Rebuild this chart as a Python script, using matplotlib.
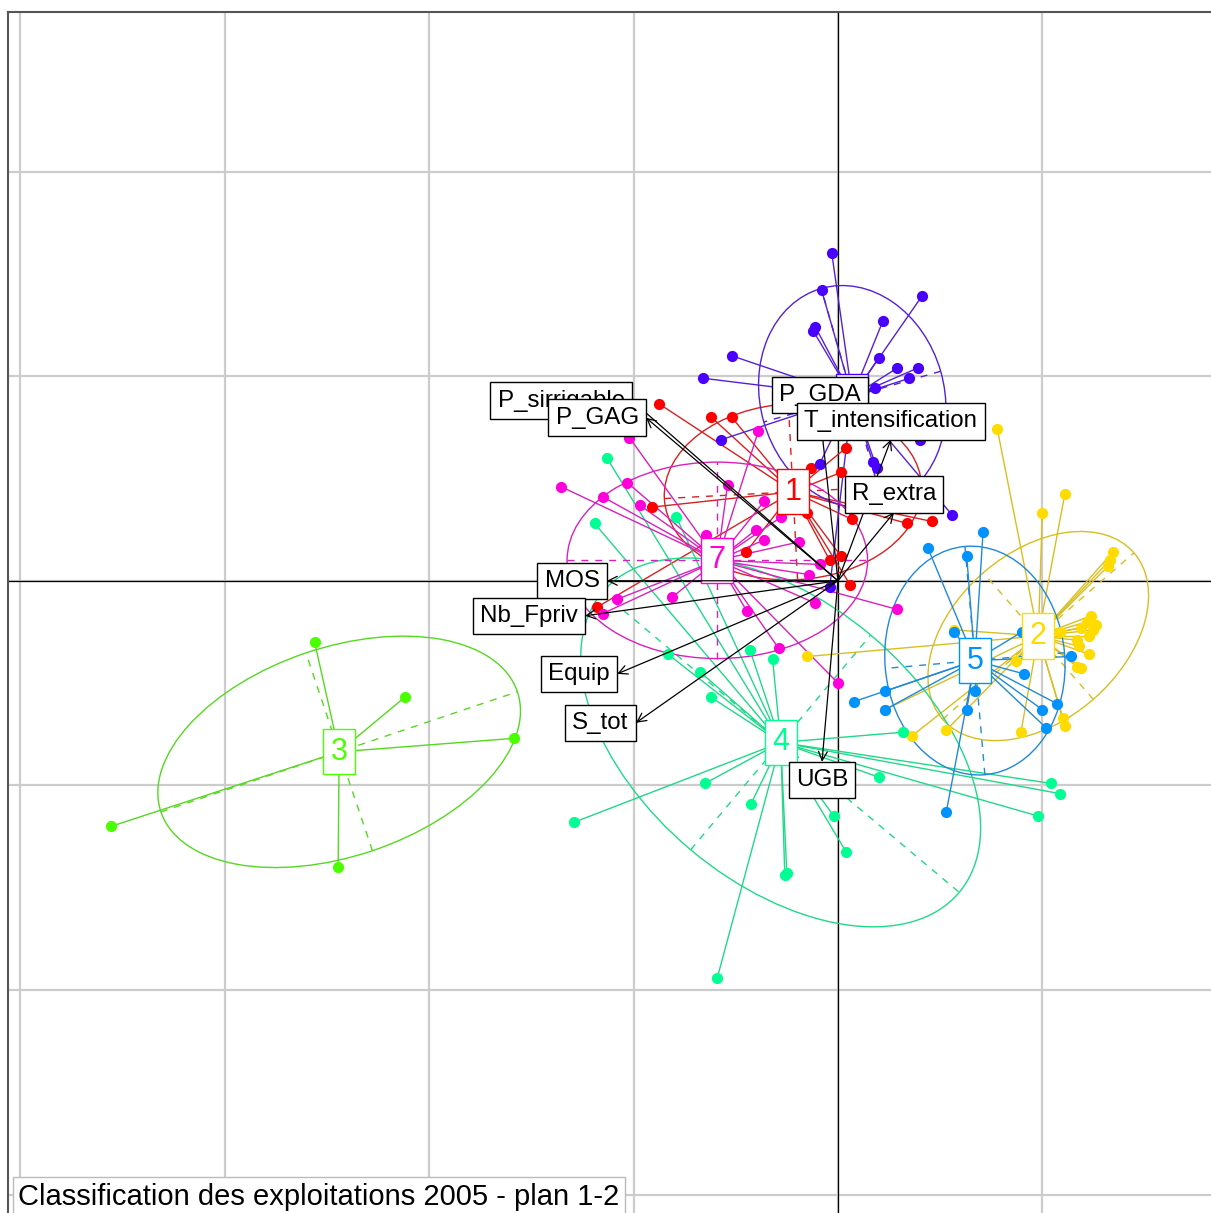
import numpy as np
import matplotlib.pyplot as plt
from matplotlib.patches import Ellipse
from matplotlib.colors import to_rgb

plt.rcParams['font.family'] = ['Liberation Sans', 'DejaVu Sans']

# coordonnees des exploitations par classe (plan factoriel 1-2)
x1 = [-0.875, -0.62, -0.52, -0.91, 0.04, 0.015, -0.13, -0.15, 0.07, 0.34, 0.46, 0.015, 0.06, -0.45, -1.18, -0.04]
y1 = [0.865, 0.80, 0.80, 0.36, 0.65, 0.53, 0.55, 0.33, 0.30, 0.28, 0.29, 0.12, -0.02, 0.14, -0.13, 0.10]

x2 = [0.78, 1.11, 1.00, 1.345, 1.32, 1.33, 1.24, 1.25, 1.19, 1.23, 1.17, 1.18, 1.23, 1.17, 1.19,
      1.085, 0.87, 1.10, 1.11, 0.895, 0.53, 0.36, 0.23, -0.15, 1.26, 1.22, 0.57]
y2 = [0.74, 0.425, 0.33, 0.14, 0.07, 0.10, -0.17, -0.24, -0.23, -0.27, -0.29, -0.32, -0.36, -0.42, -0.425,
      -0.25, -0.39, -0.67, -0.71, -0.74, -0.73, -0.76, -0.63, -0.37, -0.215, -0.20, -0.24]

x3 = [-2.56, -2.12, -1.585, -3.555, -2.445]
y3 = [-0.30, -0.57, -0.77, -1.20, -1.40]

x4 = [-0.83, -0.43, -0.32, -0.675, -0.62, 0.32, -0.65, -0.425, -1.29, 0.20, -0.02, 0.04, -0.25, -0.26,
      -0.59, 1.04, 1.085, 0.98, -1.13, -1.19, -0.79]
y4 = [-0.36, -0.34, -0.38, -0.445, -0.57, -0.74, -0.99, -1.09, -1.18, -0.96, -1.15, -1.325, -1.43, -1.44,
      -1.94, -0.99, -1.04, -1.15, 0.60, 0.28, 0.31]

x5 = [0.71, 0.44, 0.63, 0.57, 0.90, 1.14, 0.91, 0.23, 0.67, 0.23, 0.63, 1.00, 1.07, 1.02, 0.08, 0.53]
y5 = [0.24, 0.16, 0.12, -0.25, -0.25, -0.37, -0.455, -0.54, -0.54, -0.63, -0.63, -0.63, -0.60, -0.72, -0.59, -1.13]

x6 = [-0.03, -0.08, 0.41, 0.22, -0.12, -0.11, -0.52, 0.20, 0.29, 0.39, 0.35, -0.66, 0.18, -0.57, 0.40,
      0.19, 0.17, 0.56, -0.09, -0.04]
y6 = [1.60, 1.42, 1.39, 1.27, 1.22, 1.24, 1.10, 1.09, 1.04, 1.04, 0.99, 0.99, 0.94, 0.69, 0.69,
      0.55, 0.58, 0.32, 0.57, -0.03]

x7 = [-1.02, -1.03, -1.355, -1.15, -0.97, -0.54, -0.39, -0.36, -0.28, -0.40, -0.36, -0.645, -0.19, -0.09,
      -0.14, -1.08, -0.81, -1.15, -0.445, -0.11, -0.29, 0.0, 0.29]
y7 = [0.70, 0.48, 0.46, 0.41, 0.37, 0.47, 0.73, 0.39, 0.31, 0.25, 0.20, 0.225, 0.19, 0.08,
      0.03, -0.09, -0.08, -0.16, -0.15, -0.11, -0.33, -0.50, -0.14]

classes = ['1', '2', '3', '4', '5', '6', '7']
class_colors = ['#FF0000', '#FFDB00', '#49FF00', '#00FF92', '#0092FF', '#4900FF', '#FF00DB']

# centres de gravite des classes
centre_x = [-0.22, 0.98, -2.44, -0.28, 0.67, 0.07, -0.59]
centre_y = [0.435, -0.27, -0.836, -0.79, -0.39, 0.90, 0.10]

# ellipses (demi-axes et angle)
ell_a = [0.63, 0.62, 0.92, 1.14, 0.56, 0.55, 0.735]
ell_b = [0.43, 0.41, 0.51, 0.685, 0.44, 0.45, 0.48]
ell_angle = [3, 41, 18.6, -40, 95, 106, 0]

# variables (fleches)
var_names = ['P_sirrigable', 'P_GAG', 'P_GDA', 'T_intensification', 'R_extra',
             'MOS', 'Nb_Fpriv', 'Equip', 'S_tot', 'UGB']
var_x = [-1.007, -0.939, -0.088, 0.259, 0.274, -1.13, -1.237, -1.08, -0.988, -0.078]
var_y = [0.88, 0.797, 0.82, 0.69, 0.333, 0.0, -0.171, -0.455, -0.694, -0.885]

title = 'Classification des exploitations 2005 - plan 1-2'

groups_x = [x1, x2, x3, x4, x5, x6, x7]
groups_y = [y1, y2, y3, y4, y5, y6, y7]

fig = plt.figure(figsize=(12.11, 12.13), dpi=100)
ax = fig.add_axes([8 / 1211, 0, 1 - 8 / 1211, 1 - 12 / 1213])
ax.set_xlim(-4.06, 1.825)
ax.set_ylim(-3.09, 2.78)
ax.set_xticks([])
ax.set_yticks([])
ax.spines['right'].set_visible(False)
ax.spines['bottom'].set_visible(False)
for s in ['left', 'top']:
    ax.spines[s].set_color('#555555')
    ax.spines[s].set_linewidth(1.5)

# grille d = 1
for g in range(-4, 2):
    ax.axvline(g, color='#CCCCCC', lw=1.6, zorder=0)
for g in range(-3, 3):
    ax.axhline(g, color='#CCCCCC', lw=1.6, zorder=0)
ax.axhline(0, color='black', lw=0.9, zorder=1)
ax.axvline(0, color='black', lw=0.9, zorder=1)

for i in range(len(classes)):
    col = class_colors[i]
    lc = tuple(0.72 * c + 0.28 * 0.45 for c in to_rgb(col))
    cx, cy = centre_x[i], centre_y[i]
    for px, py in zip(groups_x[i], groups_y[i]):
        ax.plot([cx, px], [cy, py], color=lc, lw=1.0, zorder=2)
    ax.scatter(groups_x[i], groups_y[i], s=65, color=col, linewidths=0, zorder=3)
    ax.add_patch(Ellipse((cx, cy), 2 * ell_a[i], 2 * ell_b[i], angle=ell_angle[i],
                         fill=False, ec=lc, lw=1.0, zorder=2))
    t = np.deg2rad(ell_angle[i])
    ax.plot([cx - ell_a[i] * np.cos(t), cx + ell_a[i] * np.cos(t)],
            [cy - ell_a[i] * np.sin(t), cy + ell_a[i] * np.sin(t)],
            color=lc, lw=1.0, ls=(0, (5, 5)), zorder=2)
    ax.plot([cx + ell_b[i] * np.sin(t), cx - ell_b[i] * np.sin(t)],
            [cy - ell_b[i] * np.cos(t), cy + ell_b[i] * np.cos(t)],
            color=lc, lw=1.0, ls=(0, (5, 5)), zorder=2)

for i, lab in enumerate(classes):
    ax.text(centre_x[i], centre_y[i], lab, color=class_colors[i], fontsize=22,
            ha='center', va='center', zorder=4,
            bbox=dict(boxstyle='square,pad=0.25', fc='white', ec=class_colors[i], lw=1))

# fleches des variables
fs = 17.4
pad = 0.3
off = pad * fs
for name, x, y in zip(var_names, var_x, var_y):
    ax.annotate('', xy=(x, y), xytext=(0, 0),
                arrowprops=dict(arrowstyle='->', color='black', lw=0.9,
                                shrinkA=0, shrinkB=0, mutation_scale=16), zorder=5)
for name, x, y in zip(var_names, var_x, var_y):
    if x > y and x > -y:
        ha, va, dx, dy = 'left', 'center', off, 0
    elif x > y and x <= -y:
        ha, va, dx, dy = 'center', 'top', 0, -off
    elif x <= y and x <= -y:
        ha, va, dx, dy = 'right', 'center', -off, 0
    else:
        ha, va, dx, dy = 'center', 'bottom', 0, off
    ax.annotate(name, xy=(x, y), xytext=(dx, dy), textcoords='offset points',
                ha=ha, va=va, fontsize=fs, zorder=6,
                bbox=dict(boxstyle='square,pad=%.2f' % pad, fc='white', ec='black', lw=1))

ax.annotate(title, xy=(0, 0), xycoords='axes fraction', xytext=(7.5, 5.8),
            textcoords='offset points', ha='left', va='baseline', fontsize=21, zorder=7,
            bbox=dict(boxstyle='square,pad=0.2', fc='white', ec='#BBBBBB', lw=1))

fig.savefig('out.png', dpi=100)
